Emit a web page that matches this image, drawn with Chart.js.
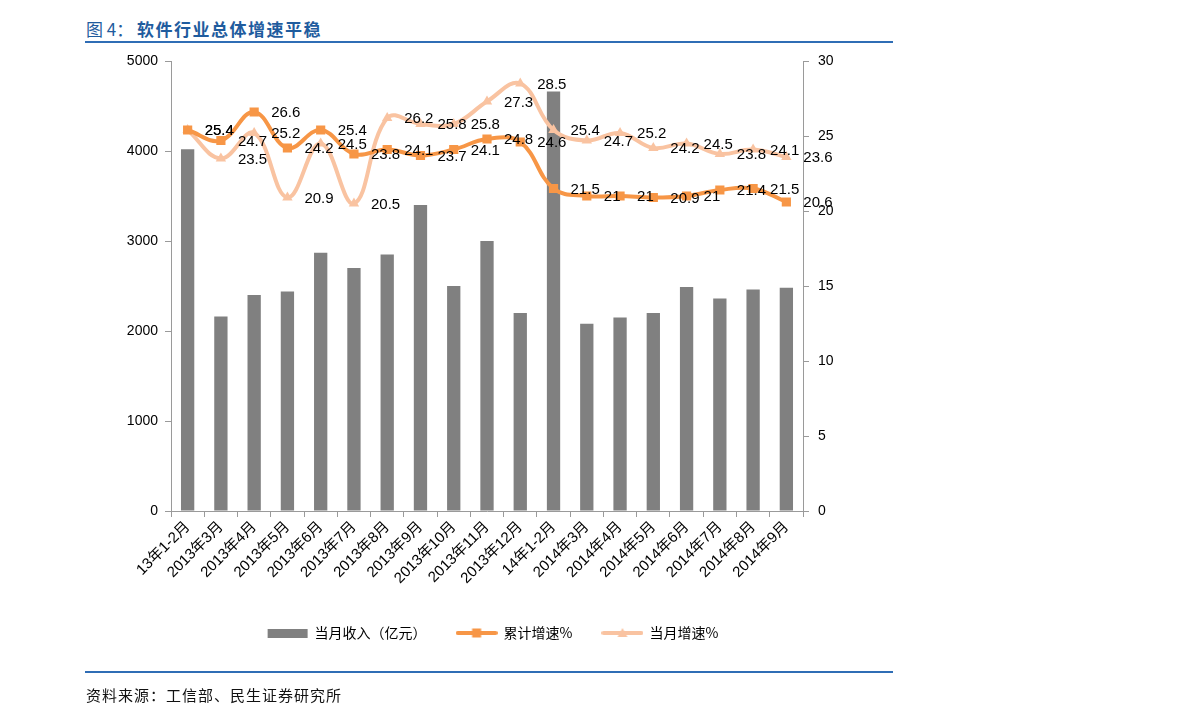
<!DOCTYPE html>
<html>
<head>
<meta charset="utf-8">
<script src="https://cdn.jsdelivr.net/npm/chart.js@4.4.1/dist/chart.umd.min.js"></script>
<style>
  html, body { margin: 0; padding: 0; background: #fff; }
  #wrap { position: relative; width: 1191px; height: 726px; overflow: hidden; }
  #chart { position: absolute; left: 0; top: 0; }
  .title { position: absolute; left: 86px; top: 19px; font-family: "Noto Sans CJK SC"; font-size: 17px; line-height: 20px; color: #1f5c9e; white-space: pre; }
  .title b { font-weight: 700; letter-spacing: 1.5px; }
  .rule { position: absolute; left: 85px; width: 808px; height: 2px; background: #2f6db5; }
  .src { position: absolute; left: 86px; top: 685px; font-family: "Noto Sans CJK SC"; font-size: 15px; line-height: 20px; color: #111; letter-spacing: 1px; }
</style>
</head>
<body>
<div id="wrap">
  <div class="title">图 4： <b>软件行业总体增速平稳</b></div>
  <div class="rule" style="top:41px"></div>
  <canvas id="chart" width="1191" height="726"></canvas>
  <div class="rule" style="top:671px"></div>
  <div class="src">资料来源：工信部、民生证券研究所</div>
</div>
<script>
// categories
const months = ['13年1-2月', '2013年3月', '2013年4月', '2013年5月', '2013年6月', '2013年7月',
  '2013年8月', '2013年9月', '2013年10月', '2013年11月', '2013年12月', '14年1-2月',
  '2014年3月', '2014年4月', '2014年5月', '2014年6月', '2014年7月', '2014年8月', '2014年9月'];

// 当月收入（亿元）
const income = [4020, 2160, 2400, 2440, 2870, 2700, 2850, 3400, 2500, 3000, 2200, 4660,
  2080, 2150, 2200, 2490, 2360, 2460, 2480];

// 累计增速%
const cumGrowth = [25.4, 24.7, 26.6, 24.2, 25.4, 23.8, 24.1, 23.7, 24.1, 24.8, 24.6, 21.5,
  21, 21, 20.9, 21, 21.4, 21.5, 20.6];

// 当月增速%
const monthGrowth = [25.4, 23.5, 25.2, 20.9, 24.5, 20.5, 26.2, 25.8, 25.8, 27.3, 28.5, 25.4,
  24.7, 25.2, 24.2, 24.5, 23.8, 24.1, 23.6];

const BAR = '#808080';
const DARK = '#F79646';
const LIGHT = '#F9C3A1';
const AXIS = '#9a9a9a';

// small legend swatches
const swatch = (draw) => {
  const c = document.createElement('canvas');
  c.width = 42; c.height = 12;
  draw(c.getContext('2d'));
  return c;
};
const barSwatch = swatch((g) => { g.fillStyle = BAR; g.fillRect(1, 2, 40, 9); });
const darkSwatch = swatch((g) => {
  g.strokeStyle = DARK; g.lineWidth = 4; g.lineCap = 'round';
  g.beginPath(); g.moveTo(2, 6); g.lineTo(40, 6); g.stroke();
  g.fillStyle = DARK; g.fillRect(16.5, 1.5, 9, 9);
});
const lightSwatch = swatch((g) => {
  g.strokeStyle = LIGHT; g.lineWidth = 4; g.lineCap = 'round';
  g.beginPath(); g.moveTo(2, 6); g.lineTo(40, 6); g.stroke();
  g.fillStyle = LIGHT;
  g.beginPath(); g.moveTo(21, 1); g.lineTo(26, 10); g.lineTo(16, 10); g.closePath(); g.fill();
});

// value labels to the right of each line point
const valueLabels = {
  id: 'valueLabels',
  afterDatasetsDraw(chart) {
    const ctx = chart.ctx;
    ctx.save();
    ctx.font = '15px "Liberation Sans"';
    ctx.fillStyle = '#000';
    ctx.textBaseline = 'middle';
    ctx.textAlign = 'left';
    chart.data.datasets.forEach((ds, i) => {
      if (ds.type !== 'line') return;
      chart.getDatasetMeta(i).data.forEach((pt, j) => {
        ctx.fillText(String(ds.data[j]), pt.x + 17, pt.y + 1);
      });
    });
    ctx.restore();
  }
};

const tickFont = { family: '"Liberation Sans", "Noto Sans CJK SC"', size: 14 };
const plain = (v) => String(v);

new Chart(document.getElementById('chart'), {
  data: {
    labels: months,
    datasets: [
      {
        type: 'bar',
        label: '当月收入（亿元）',
        data: income,
        backgroundColor: BAR,
        yAxisID: 'y',
        barPercentage: 0.4,
        categoryPercentage: 1,
        order: 3,
      },
      {
        type: 'line',
        label: '累计增速%',
        data: cumGrowth,
        borderColor: DARK,
        backgroundColor: DARK,
        borderWidth: 4,
        pointStyle: 'rect',
        pointRadius: 6.5,
        pointBorderWidth: 0,
        tension: 0.4,
        yAxisID: 'y1',
        order: 1,
      },
      {
        type: 'line',
        label: '当月增速%',
        data: monthGrowth,
        borderColor: LIGHT,
        backgroundColor: LIGHT,
        borderWidth: 4,
        pointStyle: 'triangle',
        pointRadius: 6,
        pointBorderWidth: 0,
        tension: 0.4,
        yAxisID: 'y1',
        order: 2,
      },
    ],
  },
  options: {
    responsive: false,
    animation: false,
    layout: { padding: { top: 61, left: 100, right: 305, bottom: 76 } },
    plugins: {
      tooltip: { enabled: false },
      legend: {
        position: 'bottom',
        labels: {
          usePointStyle: true,
          pointStyleWidth: 40,
          padding: 30,
          color: '#222',
          font: { family: '"Noto Sans CJK SC"', size: 14 },
          generateLabels: () => [
            { text: '当月收入（亿元）', pointStyle: barSwatch, datasetIndex: 0 },
            { text: '累计增速%', pointStyle: darkSwatch, datasetIndex: 1 },
            { text: '当月增速%', pointStyle: lightSwatch, datasetIndex: 2 },
          ],
        },
      },
    },
    scales: {
      x: {
        offset: true,
        grid: { display: true, drawOnChartArea: false, drawTicks: true, tickLength: 6, color: AXIS, offset: true },
        border: { display: true, color: AXIS },
        ticks: { autoSkip: false, maxRotation: 45, minRotation: 45, padding: 1, color: '#000',
          font: { family: '"Liberation Sans", "Noto Sans CJK SC"', size: 15 } },
        afterFit: (s) => { s.height = 85; },
      },
      y: {
        position: 'left',
        min: 0,
        max: 5000,
        grid: { drawOnChartArea: false, drawTicks: true, tickLength: 6, color: AXIS },
        border: { display: true, color: AXIS },
        ticks: { stepSize: 1000, padding: 7, color: '#000', font: tickFont, callback: plain },
        afterFit: (s) => { s.width = 71; },
      },
      y1: {
        position: 'right',
        min: 0,
        max: 30,
        grid: { drawOnChartArea: false, drawTicks: true, tickLength: 6, color: AXIS },
        border: { display: true, color: AXIS },
        ticks: { stepSize: 5, padding: 9, color: '#000', font: tickFont, callback: plain },
        afterFit: (s) => { s.width = 83; },
      },
    },
  },
  plugins: [valueLabels],
});
</script>
</body>
</html>
